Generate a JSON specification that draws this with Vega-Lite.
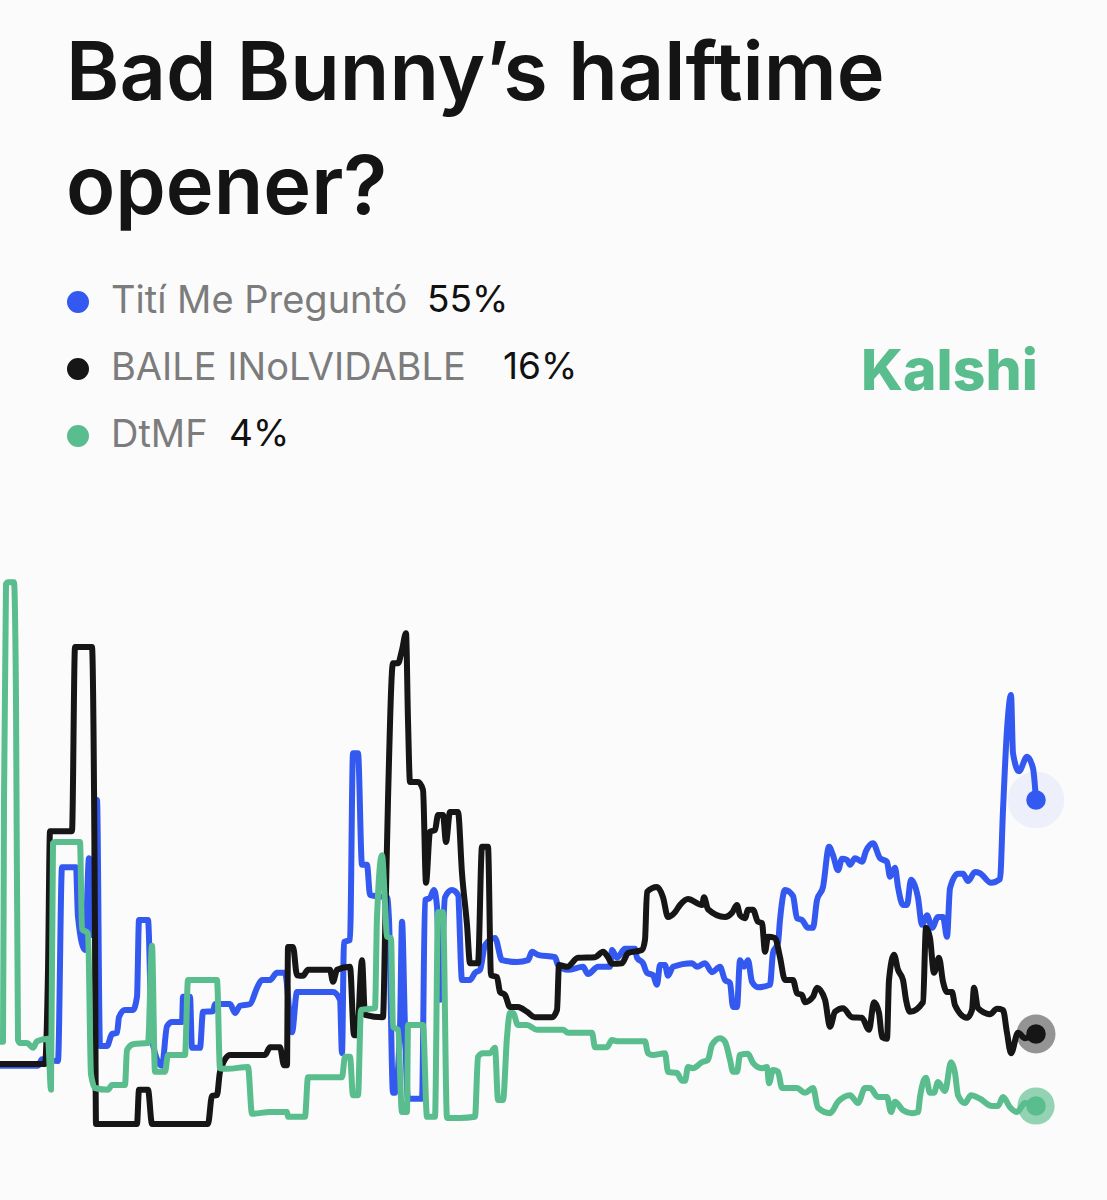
{"$schema":"https://vega.github.io/schema/vega-lite/v6.json","width":1107,"height":1200,"padding":0,"autosize":{"type":"none"},"background":"#fbfbfb","config":{"view":{"stroke":null},"font":"Inter"},
"title":{"text":["Bad Bunny’s halftime","opener?"],"anchor":"start","frame":"group","font":"Inter","fontSize":81,"fontWeight":600,"color":"#141414","lineHeight":114,"baseline":"alphabetic","orient":"top","offset":-98,"dx":66,"dy":197},
"datasets":{
"titi":[{"t":0,"pct":10.7},{"t":38,"pct":10.7},{"t":42,"pct":11.8},{"t":58,"pct":11.5},{"t":62,"pct":43.8},{"t":76,"pct":43.8},{"t":78,"pct":35.5},{"t":85,"pct":30},{"t":89,"pct":45.3},{"t":92,"pct":32.5},{"t":97,"pct":55},{"t":100,"pct":14},{"t":107,"pct":14},{"t":112,"pct":16},{"t":117,"pct":16.2},{"t":119,"pct":18.8},{"t":125,"pct":20},{"t":133,"pct":20},{"t":137,"pct":22.2},{"t":139,"pct":35},{"t":148,"pct":35},{"t":152,"pct":15},{"t":162,"pct":10.7},{"t":167,"pct":17.3},{"t":172,"pct":18},{"t":182,"pct":18},{"t":183,"pct":22.2},{"t":190,"pct":22.2},{"t":192,"pct":13.7},{"t":200,"pct":13.7},{"t":203,"pct":19.7},{"t":213,"pct":19.8},{"t":215,"pct":21},{"t":230,"pct":21},{"t":235,"pct":19.5},{"t":240,"pct":20.7},{"t":250,"pct":21},{"t":257,"pct":23.7},{"t":262,"pct":25},{"t":270,"pct":25},{"t":277,"pct":26.2},{"t":285,"pct":26.2},{"t":292,"pct":16.3},{"t":297,"pct":23},{"t":333,"pct":23},{"t":340,"pct":21.7},{"t":342,"pct":12.8},{"t":344,"pct":31.3},{"t":350,"pct":31.7},{"t":353,"pct":62.8},{"t":358,"pct":62.8},{"t":362,"pct":44.2},{"t":367,"pct":44.2},{"t":370,"pct":39.2},{"t":375,"pct":39},{"t":387,"pct":38.8},{"t":389,"pct":35},{"t":393,"pct":6.2},{"t":395,"pct":6.2},{"t":400,"pct":17},{"t":402,"pct":34.7},{"t":405,"pct":17},{"t":408,"pct":5.2},{"t":422,"pct":5.2},{"t":425,"pct":38.3},{"t":430,"pct":38.7},{"t":434,"pct":40},{"t":437,"pct":37.2},{"t":440,"pct":21.7},{"t":445,"pct":38.8},{"t":452,"pct":40},{"t":458,"pct":39.2},{"t":462,"pct":25},{"t":470,"pct":25},{"t":475,"pct":26.2},{"t":480,"pct":26.7},{"t":485,"pct":30.8},{"t":495,"pct":32},{"t":502,"pct":28.3},{"t":517,"pct":28},{"t":528,"pct":28.3},{"t":532,"pct":29.7},{"t":538,"pct":29.2},{"t":555,"pct":28.8},{"t":558,"pct":27.5},{"t":568,"pct":26.7},{"t":583,"pct":27.2},{"t":588,"pct":26},{"t":598,"pct":27.2},{"t":610,"pct":27.2},{"t":612,"pct":30},{"t":617,"pct":28.7},{"t":625,"pct":30.2},{"t":635,"pct":30.2},{"t":637,"pct":28.7},{"t":643,"pct":27.8},{"t":647,"pct":26.2},{"t":653,"pct":25.8},{"t":657,"pct":24.2},{"t":660,"pct":27.5},{"t":665,"pct":27.5},{"t":668,"pct":25.7},{"t":673,"pct":27.2},{"t":692,"pct":27.8},{"t":697,"pct":27.2},{"t":705,"pct":27.8},{"t":712,"pct":26.3},{"t":720,"pct":27.2},{"t":725,"pct":25},{"t":730,"pct":24.5},{"t":733,"pct":20.5},{"t":737,"pct":20.5},{"t":740,"pct":28.3},{"t":744,"pct":27.2},{"t":748,"pct":28.3},{"t":752,"pct":24.7},{"t":758,"pct":23.8},{"t":770,"pct":24.2},{"t":773,"pct":29.5},{"t":778,"pct":31.2},{"t":780,"pct":35},{"t":785,"pct":40},{"t":793,"pct":39},{"t":797,"pct":35.3},{"t":802,"pct":35},{"t":808,"pct":33.7},{"t":813,"pct":33.7},{"t":817,"pct":38.3},{"t":823,"pct":40.5},{"t":829,"pct":47.2},{"t":833,"pct":45.8},{"t":838,"pct":43.3},{"t":842,"pct":45.2},{"t":847,"pct":45},{"t":850,"pct":44.2},{"t":855,"pct":45.3},{"t":862,"pct":44.7},{"t":866,"pct":46.5},{"t":873,"pct":47.8},{"t":880,"pct":45.3},{"t":887,"pct":44.7},{"t":890,"pct":42.2},{"t":895,"pct":43.7},{"t":898,"pct":40.5},{"t":903,"pct":37.5},{"t":907,"pct":37.5},{"t":911,"pct":41.7},{"t":918,"pct":38.7},{"t":922,"pct":34.2},{"t":927,"pct":35.8},{"t":932,"pct":33.7},{"t":938,"pct":35.5},{"t":943,"pct":35.5},{"t":947,"pct":32.2},{"t":950,"pct":40.3},{"t":958,"pct":42.7},{"t":963,"pct":42.7},{"t":968,"pct":41.5},{"t":975,"pct":43},{"t":980,"pct":42.8},{"t":991,"pct":41.2},{"t":1000,"pct":41.8},{"t":1003,"pct":53.3},{"t":1007,"pct":66.7},{"t":1011,"pct":72.5},{"t":1013,"pct":62.8},{"t":1019,"pct":59.8},{"t":1027,"pct":62.2},{"t":1033,"pct":60.3},{"t":1036,"pct":55}],
"baile":[{"t":0,"pct":11},{"t":45,"pct":11},{"t":48,"pct":26.5},{"t":50,"pct":49.8},{"t":72,"pct":49.8},{"t":75,"pct":80.5},{"t":92,"pct":80.5},{"t":95,"pct":32.5},{"t":96,"pct":1},{"t":137,"pct":1},{"t":139,"pct":6.7},{"t":148,"pct":6.7},{"t":152,"pct":1},{"t":208,"pct":1},{"t":212,"pct":5.7},{"t":217,"pct":5.8},{"t":220,"pct":9.7},{"t":230,"pct":12.5},{"t":265,"pct":12.5},{"t":270,"pct":13.8},{"t":280,"pct":13.8},{"t":284,"pct":10.8},{"t":287,"pct":10.8},{"t":288,"pct":30.5},{"t":293,"pct":30.5},{"t":297,"pct":25.8},{"t":303,"pct":25.7},{"t":308,"pct":26.7},{"t":330,"pct":26.7},{"t":333,"pct":24.7},{"t":337,"pct":26.7},{"t":350,"pct":27.2},{"t":354,"pct":15.8},{"t":357,"pct":15.8},{"t":362,"pct":28.3},{"t":365,"pct":19.2},{"t":383,"pct":18.8},{"t":385,"pct":32.2},{"t":388,"pct":55},{"t":393,"pct":77.8},{"t":398,"pct":77.8},{"t":402,"pct":80},{"t":406,"pct":82.8},{"t":408,"pct":68.3},{"t":410,"pct":58},{"t":418,"pct":58},{"t":423,"pct":56.7},{"t":426,"pct":41.2},{"t":430,"pct":49.7},{"t":435,"pct":50},{"t":438,"pct":52.5},{"t":443,"pct":52.5},{"t":446,"pct":48},{"t":450,"pct":53},{"t":458,"pct":53},{"t":462,"pct":42.8},{"t":467,"pct":34.2},{"t":470,"pct":27.8},{"t":478,"pct":27.8},{"t":482,"pct":47.2},{"t":488,"pct":47.2},{"t":491,"pct":25.8},{"t":497,"pct":25.5},{"t":500,"pct":23},{"t":505,"pct":22.5},{"t":510,"pct":20.5},{"t":518,"pct":20.5},{"t":527,"pct":19.7},{"t":535,"pct":18.8},{"t":552,"pct":18.8},{"t":557,"pct":20},{"t":559,"pct":27.5},{"t":567,"pct":27.2},{"t":578,"pct":28.7},{"t":595,"pct":28.8},{"t":603,"pct":29.7},{"t":608,"pct":28.8},{"t":612,"pct":27.7},{"t":622,"pct":27.8},{"t":628,"pct":29.5},{"t":642,"pct":30},{"t":645,"pct":31.7},{"t":647,"pct":39.7},{"t":657,"pct":40.5},{"t":663,"pct":38.8},{"t":668,"pct":35.5},{"t":675,"pct":36.3},{"t":680,"pct":37.5},{"t":688,"pct":38.5},{"t":702,"pct":37.5},{"t":704,"pct":38.8},{"t":708,"pct":36.8},{"t":725,"pct":35.5},{"t":732,"pct":36.2},{"t":737,"pct":37.5},{"t":740,"pct":35.8},{"t":745,"pct":35.3},{"t":748,"pct":36.7},{"t":753,"pct":36.7},{"t":758,"pct":34.7},{"t":762,"pct":34.5},{"t":765,"pct":29.7},{"t":768,"pct":32.2},{"t":775,"pct":32},{"t":780,"pct":28.8},{"t":785,"pct":25},{"t":793,"pct":25},{"t":797,"pct":22.8},{"t":802,"pct":22.5},{"t":805,"pct":21.3},{"t":813,"pct":22.2},{"t":817,"pct":23.7},{"t":825,"pct":21.7},{"t":830,"pct":17.2},{"t":835,"pct":19.7},{"t":843,"pct":20.3},{"t":852,"pct":18.8},{"t":862,"pct":18.7},{"t":869,"pct":16.7},{"t":874,"pct":21.3},{"t":879,"pct":19.5},{"t":882,"pct":15.5},{"t":887,"pct":15.2},{"t":889,"pct":25},{"t":894,"pct":29.2},{"t":898,"pct":26.7},{"t":903,"pct":25},{"t":906,"pct":21.7},{"t":910,"pct":19.7},{"t":923,"pct":21.3},{"t":926,"pct":33.7},{"t":930,"pct":32},{"t":934,"pct":26.2},{"t":939,"pct":28.7},{"t":943,"pct":24.7},{"t":947,"pct":23},{"t":952,"pct":23},{"t":955,"pct":20.8},{"t":967,"pct":18.7},{"t":972,"pct":20},{"t":974,"pct":23.7},{"t":978,"pct":20.3},{"t":990,"pct":19.3},{"t":997,"pct":20.2},{"t":1003,"pct":20},{"t":1007,"pct":16.2},{"t":1011,"pct":12.8},{"t":1018,"pct":16.2},{"t":1025,"pct":15.3},{"t":1036,"pct":16}],
"dtmf":[{"t":0,"pct":14.7},{"t":3,"pct":14.7},{"t":4,"pct":55},{"t":6,"pct":91},{"t":8,"pct":91.3},{"t":14,"pct":91.3},{"t":16,"pct":71.7},{"t":18,"pct":15},{"t":20,"pct":14.5},{"t":27,"pct":14.5},{"t":33,"pct":13.7},{"t":37,"pct":14.8},{"t":48,"pct":15.2},{"t":51,"pct":6.7},{"t":53,"pct":47.8},{"t":55,"pct":48},{"t":80,"pct":48},{"t":82,"pct":33.5},{"t":88,"pct":32.8},{"t":91,"pct":9.3},{"t":95,"pct":7},{"t":108,"pct":6.7},{"t":112,"pct":7.5},{"t":125,"pct":7.5},{"t":127,"pct":13.3},{"t":133,"pct":14.3},{"t":148,"pct":14.5},{"t":152,"pct":30.7},{"t":155,"pct":9.7},{"t":165,"pct":9.7},{"t":168,"pct":12.5},{"t":185,"pct":12.5},{"t":188,"pct":25},{"t":217,"pct":25},{"t":220,"pct":10.3},{"t":227,"pct":10.2},{"t":248,"pct":10.5},{"t":252,"pct":2.7},{"t":270,"pct":3},{"t":287,"pct":3},{"t":288,"pct":2.2},{"t":305,"pct":2.2},{"t":308,"pct":8.8},{"t":342,"pct":8.8},{"t":345,"pct":12.2},{"t":350,"pct":12.2},{"t":353,"pct":5.8},{"t":358,"pct":5.8},{"t":361,"pct":20},{"t":375,"pct":20.3},{"t":377,"pct":35.5},{"t":382,"pct":45.8},{"t":385,"pct":37.8},{"t":387,"pct":32.2},{"t":391,"pct":32},{"t":393,"pct":17.2},{"t":398,"pct":16.7},{"t":402,"pct":3},{"t":407,"pct":3},{"t":408,"pct":17.5},{"t":423,"pct":17.5},{"t":427,"pct":2.2},{"t":435,"pct":2.2},{"t":438,"pct":36.3},{"t":443,"pct":36.3},{"t":447,"pct":2},{"t":460,"pct":2},{"t":475,"pct":2.2},{"t":478,"pct":12.2},{"t":483,"pct":12.8},{"t":490,"pct":12.8},{"t":495,"pct":13.7},{"t":498,"pct":5},{"t":503,"pct":5},{"t":507,"pct":15.5},{"t":510,"pct":19.5},{"t":513,"pct":19.5},{"t":518,"pct":17.5},{"t":527,"pct":17.5},{"t":537,"pct":16.7},{"t":563,"pct":16.7},{"t":568,"pct":16.2},{"t":592,"pct":16.2},{"t":595,"pct":13.8},{"t":607,"pct":13.8},{"t":612,"pct":15},{"t":617,"pct":14.8},{"t":645,"pct":14.8},{"t":648,"pct":12.8},{"t":653,"pct":12.5},{"t":665,"pct":12.8},{"t":668,"pct":9.7},{"t":677,"pct":9.5},{"t":682,"pct":8.2},{"t":685,"pct":8.2},{"t":688,"pct":10.5},{"t":693,"pct":10.3},{"t":702,"pct":11.3},{"t":708,"pct":11.7},{"t":712,"pct":14.2},{"t":720,"pct":15.3},{"t":725,"pct":14.7},{"t":730,"pct":11.7},{"t":733,"pct":9.7},{"t":737,"pct":9.7},{"t":740,"pct":12.5},{"t":748,"pct":12.7},{"t":753,"pct":11.2},{"t":762,"pct":10.3},{"t":767,"pct":10.5},{"t":769,"pct":7.8},{"t":773,"pct":10},{"t":778,"pct":9.7},{"t":782,"pct":7},{"t":797,"pct":7},{"t":805,"pct":6.2},{"t":813,"pct":7},{"t":818,"pct":3.7},{"t":830,"pct":2.8},{"t":838,"pct":4.7},{"t":850,"pct":5.8},{"t":858,"pct":4.5},{"t":865,"pct":7},{"t":870,"pct":7},{"t":878,"pct":5.5},{"t":887,"pct":5.5},{"t":891,"pct":3},{"t":895,"pct":4.7},{"t":903,"pct":3.3},{"t":912,"pct":2.8},{"t":918,"pct":3},{"t":920,"pct":5.5},{"t":926,"pct":8.7},{"t":930,"pct":6.2},{"t":934,"pct":6.2},{"t":938,"pct":8},{"t":945,"pct":6.5},{"t":951,"pct":11.3},{"t":955,"pct":9.5},{"t":958,"pct":5.8},{"t":965,"pct":4.5},{"t":971,"pct":5.8},{"t":980,"pct":5.2},{"t":992,"pct":4},{"t":998,"pct":4},{"t":1003,"pct":5.5},{"t":1010,"pct":3.8},{"t":1017,"pct":3},{"t":1025,"pct":4.5},{"t":1036,"pct":4}],
"ends":[{"series":"Tití Me Preguntó","t":1036,"pct":55},{"series":"BAILE INoLVIDABLE","t":1036,"pct":16},{"series":"DtMF","t":1036,"pct":4}]
},
"encoding":{
"x":{"scale":{"domain":[0,1107],"nice":false,"zero":false},"axis":null},
"y":{"scale":{"domain":[-11.667,188.333],"nice":false,"zero":false},"axis":null}
},
"layer":[
{"data":{"name":"ends"},"transform":[{"filter":"datum.series==='Tití Me Preguntó'"}],"mark":{"type":"circle","size":3217,"opacity":0.07},"encoding":{"x":{"field":"t","type":"quantitative"},"y":{"field":"pct","type":"quantitative"},"color":{"field":"series","type":"nominal","scale":{"domain":["Tití Me Preguntó","BAILE INoLVIDABLE","DtMF"],"range":["#3459f0","#161616","#5abd8d"]},"legend":{"title":null,"orient":"none","legendX":59,"legendY":283,"symbolType":"circle","symbolSize":420,"symbolOpacity":1,"labelFont":"Inter","labelFontSize":38,"labelColor":"#7c7c7c","labelOffset":14,"rowPadding":29,"labelLimit":600,"values":["Tití Me Preguntó","BAILE INoLVIDABLE","DtMF"],"encode":{"symbols":{"update":{"fill":{"scale":"color","field":"value"},"stroke":{"value":"transparent"},"opacity":{"value":1}}}}}}}},
{"data":{"name":"ends"},"transform":[{"filter":"datum.series==='BAILE INoLVIDABLE'"}],"mark":{"type":"circle","size":1520,"opacity":0.45},"encoding":{"x":{"field":"t","type":"quantitative"},"y":{"field":"pct","type":"quantitative"},"color":{"field":"series","type":"nominal"}}},
{"data":{"name":"ends"},"transform":[{"filter":"datum.series==='DtMF'"}],"mark":{"type":"circle","size":1385,"opacity":0.65},"encoding":{"x":{"field":"t","type":"quantitative"},"y":{"field":"pct","type":"quantitative"},"color":{"field":"series","type":"nominal"}}},
{"data":{"name":"titi"},"mark":{"type":"line","interpolate":"monotone","strokeWidth":6,"strokeJoin":"round","strokeCap":"round"},"encoding":{"x":{"field":"t","type":"quantitative"},"y":{"field":"pct","type":"quantitative"},"color":{"datum":"Tití Me Preguntó"}}},
{"data":{"name":"baile"},"mark":{"type":"line","interpolate":"monotone","strokeWidth":6,"strokeJoin":"round","strokeCap":"round"},"encoding":{"x":{"field":"t","type":"quantitative"},"y":{"field":"pct","type":"quantitative"},"color":{"datum":"BAILE INoLVIDABLE"}}},
{"data":{"name":"dtmf"},"mark":{"type":"line","interpolate":"monotone","strokeWidth":6,"strokeJoin":"round","strokeCap":"round"},"encoding":{"x":{"field":"t","type":"quantitative"},"y":{"field":"pct","type":"quantitative"},"color":{"datum":"DtMF"}}},
{"data":{"name":"ends"},"mark":{"type":"circle","size":380,"opacity":1},"encoding":{"x":{"field":"t","type":"quantitative"},"y":{"field":"pct","type":"quantitative"},"color":{"field":"series","type":"nominal"}}},
{"data":{"values":[{"pct":"55%"}]},"mark":{"type":"text","align":"left","baseline":"middle","font":"Inter","fontSize":37,"color":"#111111"},"encoding":{"x":{"datum":427},"y":{"datum":138.2},"text":{"field":"pct"}}},
{"data":{"values":[{"pct":"16%"}]},"mark":{"type":"text","align":"left","baseline":"middle","font":"Inter","fontSize":37,"color":"#111111"},"encoding":{"x":{"datum":503},"y":{"datum":127},"text":{"field":"pct"}}},
{"data":{"values":[{"pct":"4%"}]},"mark":{"type":"text","align":"left","baseline":"middle","font":"Inter","fontSize":37,"color":"#111111"},"encoding":{"x":{"datum":229},"y":{"datum":115.8},"text":{"field":"pct"}}},
{"data":{"values":[{"brand":"Kalshi"}]},"mark":{"type":"text","align":"left","baseline":"alphabetic","font":"Inter","fontSize":57,"fontWeight":800,"color":"#5abd8d"},"encoding":{"x":{"datum":861},"y":{"datum":123.33},"text":{"field":"brand"}}}
]}
